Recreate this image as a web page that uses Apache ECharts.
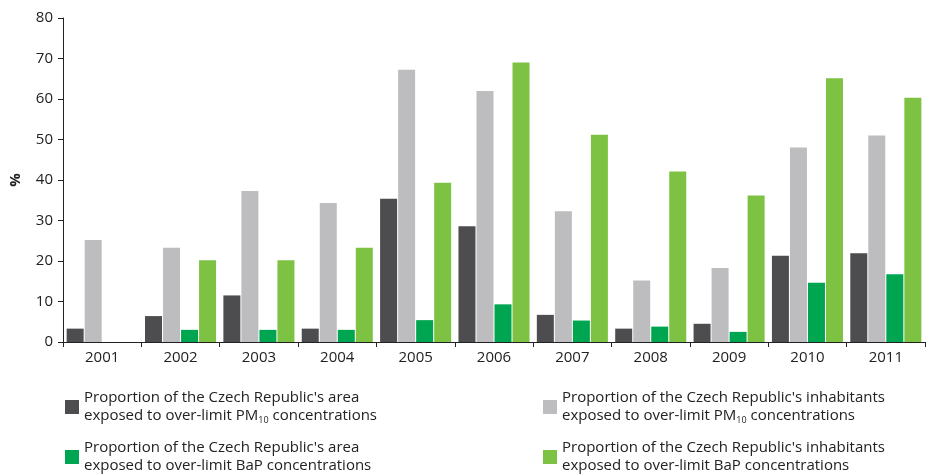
<!DOCTYPE html>
<html><head><meta charset="utf-8">
<script src="https://cdn.jsdelivr.net/npm/echarts@6/dist/echarts.min.js"></script>
<style>html,body{margin:0;padding:0;background:#fff}#c{width:928px;height:474px}</style>
</head><body><div id="c"></div>
<script>
// values (%)
const years = ['2001','2002','2003','2004','2005','2006','2007','2008','2009','2010','2011'];
const areaPM10 = [3.3, 6.4, 11.5, 3.3, 35.4, 28.6, 6.7, 3.3, 4.5, 21.3, 21.9];
const inhabPM10 = [25.2, 23.3, 37.3, 34.3, 67.2, 62.0, 32.3, 15.2, 18.3, 48.0, 51.0];
const areaBaP = [null, 3.0, 3.0, 3.0, 5.4, 9.3, 5.3, 3.8, 2.5, 14.6, 16.7];
const inhabBaP = [null, 20.2, 20.2, 23.3, 39.3, 69.0, 51.2, 42.1, 36.2, 65.1, 60.3];

const names = [
  "Proportion of the Czech Republic's area\nexposed to over-limit PM{s|10} concentrations",
  "Proportion of the Czech Republic's inhabitants\nexposed to over-limit PM{s|10} concentrations",
  "Proportion of the Czech Republic's area\nexposed to over-limit BaP concentrations",
  "Proportion of the Czech Republic's inhabitants\nexposed to over-limit BaP concentrations"
];
const colors = ['#4d4d4f', '#bdbdbf', '#00a551', '#7dc242'];
const font = 'Open Sans';

function legendAt(i, left, top) {
  return {
    data: [names[i]], left, top, itemWidth: 14, itemHeight: 14, itemGap: 0,
    icon: 'path://M0,0H14V14H0ZM0,14H14V28H0Z'.replace('M0,14H14V28H0Z', '') , // square, top aligned below
    textStyle: {
      fontFamily: font, fontSize: 15, color: '#222', lineHeight: 18,
      rich: { s: { fontSize: 9, verticalAlign: 'bottom', padding: [8, 0, 0, 0], fontFamily: font, color: '#222' } }
    }
  };
}

const chart = echarts.init(document.getElementById('c'));
const legends = [legendAt(0, 60, 384), legendAt(1, 538, 384), legendAt(2, 60, 434), legendAt(3, 538, 434)];
legends.forEach(l => { l.icon = 'rect'; });
chart.setOption({
  animation: false,
  textStyle: { fontFamily: font },
  legend: legends,
  grid: { left: 60, right: 3, top: 18, bottom: 132 },
  xAxis: {
    type: 'category', data: years,
    axisLine: { lineStyle: { color: '#222' } },
    axisTick: { show: true, lineStyle: { color: '#222' } },
    axisLabel: { color: '#222', fontSize: 15, fontFamily: font, margin: 8 }
  },
  yAxis: {
    type: 'value', min: 0, max: 80, interval: 10,
    name: '%', nameLocation: 'middle', nameGap: 40, nameRotate: 90,
    nameTextStyle: { color: '#222', fontSize: 15, fontWeight: 'bold', fontFamily: font },
    axisLine: { show: true, lineStyle: { color: '#222' } },
    axisTick: { show: true, lineStyle: { color: '#222' } },
    splitLine: { show: false },
    axisLabel: { color: '#222', fontSize: 15, fontFamily: font, margin: 10 }
  },
  series: [
    { name: names[0], type: 'bar', data: areaPM10, itemStyle: { color: colors[0] }, barWidth: 17, barGap: '6%' },
    { name: names[1], type: 'bar', data: inhabPM10, itemStyle: { color: colors[1] }, barWidth: 17, barGap: '6%' },
    { name: names[2], type: 'bar', data: areaBaP, itemStyle: { color: colors[2] }, barWidth: 17, barGap: '6%' },
    { name: names[3], type: 'bar', data: inhabBaP, itemStyle: { color: colors[3] }, barWidth: 17, barGap: '6%' }
  ]
});
</script></body></html>
